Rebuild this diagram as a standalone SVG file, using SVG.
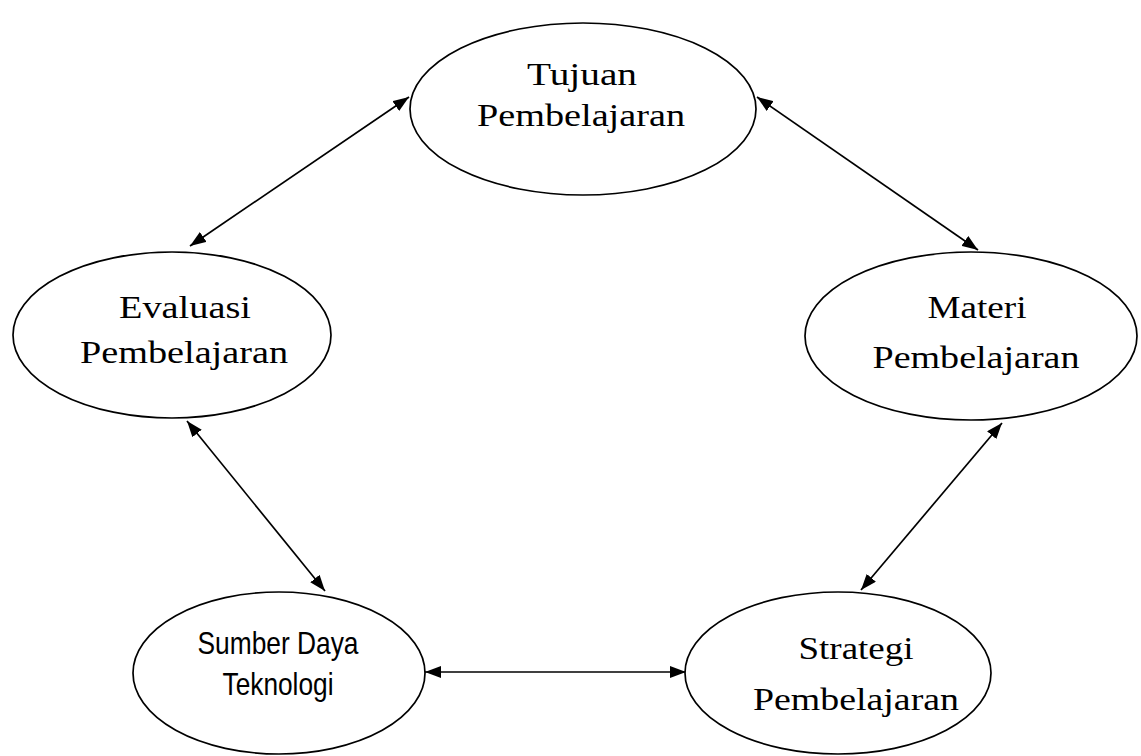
<svg xmlns="http://www.w3.org/2000/svg" width="1141" height="756" viewBox="0 0 1141 756">
<style>
.node ellipse{fill:#fff;stroke:#000;stroke-width:1.7}
.serif{font-family:"Liberation Serif","DejaVu Serif",serif;font-size:31px;fill:#000;text-anchor:middle}
.sans{font-family:"Liberation Sans",Arial,sans-serif;font-size:32px;fill:#000;text-anchor:middle}
.conn line{stroke:#000;stroke-width:1.7;marker-start:url(#ah);marker-end:url(#ah)}
</style>
<defs>
<marker id="ah" viewBox="0 0 16 12" refX="16" refY="6" markerWidth="16" markerHeight="12" markerUnits="userSpaceOnUse" orient="auto-start-reverse">
<path d="M0,0 L16,6 L0,12 Z" fill="#000"/>
</marker>
</defs>
<rect width="1141" height="756" fill="#fff"/>
<g id="connectors" class="conn">
<line x1="409" y1="97" x2="190" y2="246"/>
<line x1="757" y1="97" x2="978" y2="250"/>
<line x1="187" y1="421" x2="325" y2="591"/>
<line x1="1002" y1="423" x2="861" y2="590"/>
<line x1="425" y1="672" x2="686" y2="672"/>
</g>
<g id="tujuan" class="node">
<ellipse cx="583" cy="109" rx="173" ry="86"/>
<text class="serif" x="582" y="85" textLength="110" lengthAdjust="spacingAndGlyphs">Tujuan</text>
<text class="serif" x="581" y="126" textLength="208" lengthAdjust="spacingAndGlyphs">Pembelajaran</text>
</g>
<g id="evaluasi" class="node">
<ellipse cx="172" cy="335" rx="159" ry="83"/>
<text class="serif" x="185" y="318" textLength="132" lengthAdjust="spacingAndGlyphs">Evaluasi</text>
<text class="serif" x="184" y="363" textLength="208" lengthAdjust="spacingAndGlyphs">Pembelajaran</text>
</g>
<g id="materi" class="node">
<ellipse cx="971" cy="336" rx="166" ry="84"/>
<text class="serif" x="977" y="318" textLength="99" lengthAdjust="spacingAndGlyphs">Materi</text>
<text class="serif" x="976" y="368" textLength="207" lengthAdjust="spacingAndGlyphs">Pembelajaran</text>
</g>
<g id="sumber" class="node">
<ellipse cx="279" cy="673" rx="146" ry="81"/>
<text class="sans" x="278" y="654" textLength="161" lengthAdjust="spacingAndGlyphs">Sumber Daya</text>
<text class="sans" x="278" y="695" textLength="111" lengthAdjust="spacingAndGlyphs">Teknologi</text>
</g>
<g id="strategi" class="node">
<ellipse cx="838" cy="673" rx="153" ry="81"/>
<text class="serif" x="856" y="659" textLength="115" lengthAdjust="spacingAndGlyphs">Strategi</text>
<text class="serif" x="856" y="710" textLength="206" lengthAdjust="spacingAndGlyphs">Pembelajaran</text>
</g>
</svg>
